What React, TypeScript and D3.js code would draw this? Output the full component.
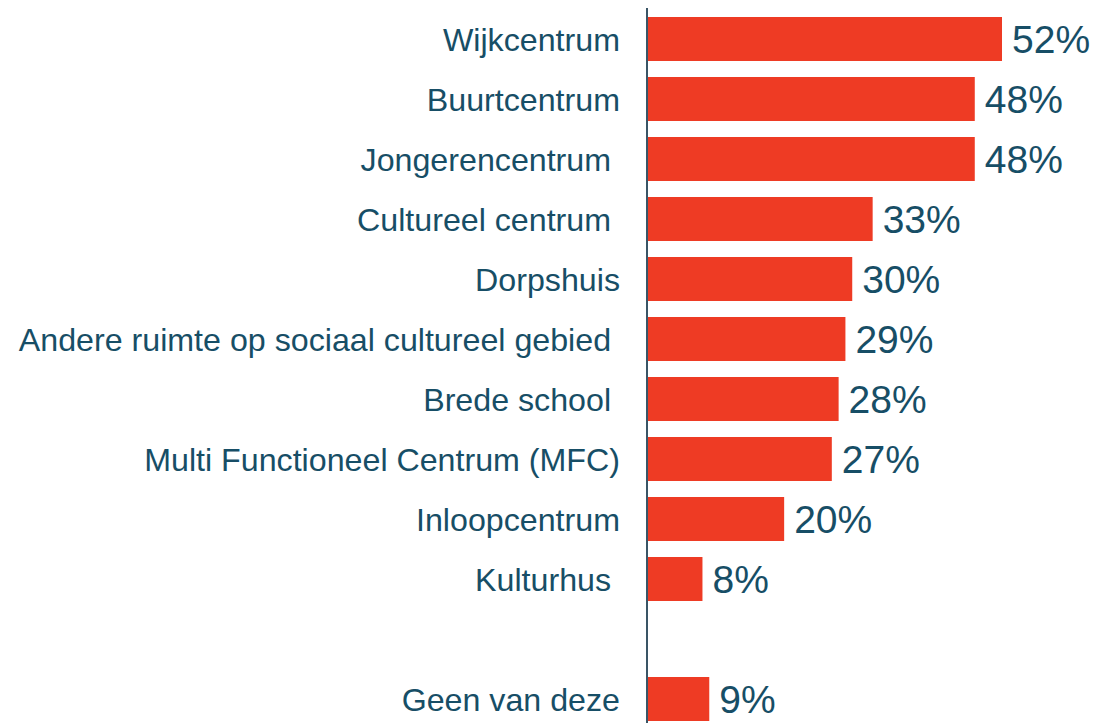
import React from "react";
import * as d3 from "d3";

const categories: string[] = [
  "Wijkcentrum",
  "Buurtcentrum",
  "Jongerencentrum ",
  "Cultureel centrum ",
  "Dorpshuis",
  "Andere ruimte op sociaal cultureel gebied ",
  "Brede school ",
  "Multi Functioneel Centrum (MFC)",
  "Inloopcentrum",
  "Kulturhus ",
  "",
  "Geen van deze",
];
const values: (number | null)[] = [52, 48, 48, 33, 30, 29, 28, 27, 20, 8, null, 9];
const slotKeys: string[] = categories.map((c, i) => `slot${i}`);

const W = 1095;
const H = 723;
const BAR = "#EE3B24";
const TEXT = "#174E66";
const AXIS = "#3A5566";
const FONT = "'Liberation Sans', Arial, sans-serif";

export default function App() {
  const x = d3.scaleLinear().domain([0, 52]).range([648, 1002]);
  const y = d3
    .scaleBand<string>()
    .domain(slotKeys)
    .range([9, 729])
    .paddingInner(16 / 60)
    .paddingOuter(8 / 60);

  return (
    <svg
      width={W}
      height={H}
      style={{ position: "absolute", left: 0, top: 0, background: "#fff" }}
      fontFamily={FONT}
    >
      {slotKeys.map((k, i) => {
        const v = values[i];
        const y0 = y(k)!;
        const cy = y0 + y.bandwidth() / 2;
        return (
          <g key={k}>
            {categories[i] !== "" && (
              <text
                x={620}
                y={cy}
                dy="0.36em"
                textAnchor="end"
                fontSize={32.2}
                fill={TEXT}
                style={{ whiteSpace: "pre" }}
                xmlSpace="preserve"
              >
                {categories[i]}
              </text>
            )}
            {v !== null && (
              <>
                <rect x={x(0)} y={y0} width={x(v) - x(0)} height={y.bandwidth()} fill={BAR} />
                <text
                  x={x(v) + 10}
                  y={cy}
                  dy="0.36em"
                  fontSize={39}
                  fill={TEXT}
                >
                  {`${v}%`}
                </text>
              </>
            )}
          </g>
        );
      })}
      <line x1={647} x2={647} y1={8} y2={H} stroke={AXIS} strokeWidth={2} />
    </svg>
  );
}
